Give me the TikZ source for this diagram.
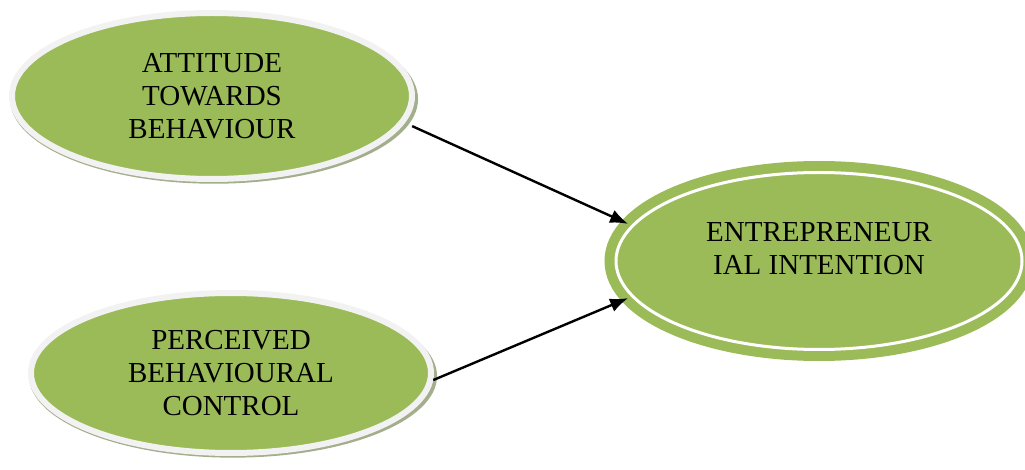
\documentclass[tikz,border=0pt]{standalone}
\usepackage{fontspec}
\setmainfont{Liberation Serif}
\usepackage{tikz}
\usetikzlibrary{shapes,shadows,arrows.meta}

\definecolor{ovalgreen}{HTML}{9BBB59}
\definecolor{ringgray}{HTML}{F2F2F2}
\definecolor{shadowgray}{HTML}{A3AE8C}

\tikzset{
  factor/.style={ellipse,fill=ovalgreen,draw=ringgray,line width=6pt,
    minimum width=400pt,minimum height=166pt,align=center,
    font=\fontsize{29}{33}\selectfont,
    drop shadow={shadow xshift=2pt,shadow yshift=-3pt,shadow scale=1.02,
      fill=shadowgray,opacity=1}},
  intent/.style={ellipse,fill=ovalgreen,draw=white,line width=3pt,
    minimum width=406pt,minimum height=177pt,outer sep=5pt,
    preaction={draw=ovalgreen,line width=23pt}},
  lbl/.style={align=center,font=\fontsize{29}{33}\selectfont},
  link/.style={line width=2.4pt,-{Latex[length=18pt,width=14pt]}}
}

\begin{document}
\begin{tikzpicture}[x=1pt,y=-1pt]
\useasboundingbox (0,0) rectangle (1025,470);

\node[factor] (att) at (212,96) {ATTITUDE\\TOWARDS\\BEHAVIOUR};
\node[factor,minimum height=160pt] (pbc) at (231,373) {PERCEIVED\\BEHAVIOURAL\\CONTROL};
\node[intent] (ent) at (819,261) {};
\node[lbl] (ent-lbl) at ([yshift=12pt]ent.center) {ENTREPRENEUR\\IAL INTENTION};

\draw[link] ([xshift=10pt]att.-9) -- (ent.169);
\draw[link] (pbc.-2) -- (ent.191);
\end{tikzpicture}
\end{document}
